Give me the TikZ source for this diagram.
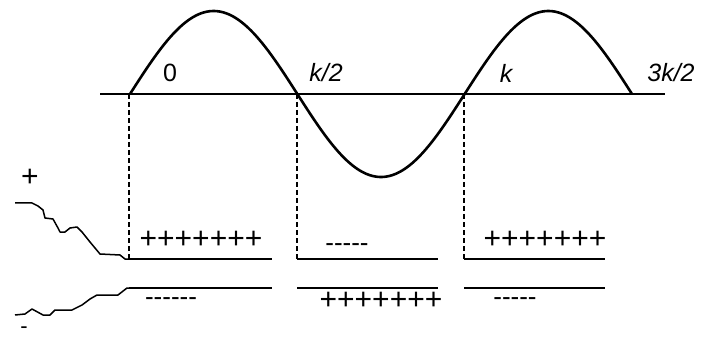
\documentclass[tikz,border=0pt]{standalone}
\usepackage{fontspec}
\setmainfont{Liberation Sans}
\begin{document}
\begin{tikzpicture}[x=1pt,y=-1pt,
  lbl/.style={font=\fontsize{25}{30}\selectfont\itshape, inner sep=0pt},
  lblup/.style={font=\fontsize{25}{30}\selectfont, inner sep=0pt},
  pluses/.style={font=\fontsize{30}{34}\selectfont, inner sep=0pt},
  minuses/.style={font=\fontsize{26}{30}\selectfont, inner sep=0pt},
  plate/.style={line width=1.8pt},
  guide/.style={line width=1.3pt, dash pattern=on 5pt off 3pt},
  wave/.style={line width=2.6pt},
  wire/.style={line width=1.5pt, line join=round}]
\useasboundingbox (0,0) rectangle (701,339);
% axis
\coordinate (axL) at (100,94);
\coordinate (axR) at (665,94);
\draw[line width=1.5pt] (axL) -- (axR);
% sine wave
\draw[wave] plot[domain=130:632, samples=200, smooth] (\x,{94-83*sin((\x-130)/167.33*180)});
% zero crossings
\coordinate (z0) at (129,94);
\coordinate (z1) at (297,94);
\coordinate (z2) at (464,94);
% plates
\coordinate (u1a) at (129,259); \coordinate (u1b) at (272,259);
\coordinate (u2a) at (297,259); \coordinate (u2b) at (438,259);
\coordinate (u3a) at (464,259); \coordinate (u3b) at (605,259);
\coordinate (l1a) at (129,288); \coordinate (l1b) at (272,288);
\coordinate (l2a) at (297,288); \coordinate (l2b) at (438,288);
\coordinate (l3a) at (464,288); \coordinate (l3b) at (605,288);
\draw[plate] (u1a) -- (u1b);
\draw[plate] (u2a) -- (u2b);
\draw[plate] (u3a) -- (u3b);
\draw[plate] (l1a) -- (l1b);
\draw[plate] (l2a) -- (l2b);
\draw[plate] (l3a) -- (l3b);
% guides
\draw[guide] (z0) -- (u1a);
\draw[guide] (z1) -- (u2a);
\draw[guide] (z2) -- (u3a);
% labels
\node[lblup] (n0) at (170,73) {0};
\node[lbl] (n1) at (326,73) {k/2};
\node[lbl] (n2) at (506,73) {k};
\node[lbl] (n3) at (671,73) {3k/2};
% charges
\node[pluses] (p1) at (201,240) {+++++++};
\node[pluses] (p2) at (381,301) {+++++++};
\node[pluses] (p3) at (545,240) {+++++++};
\node[minuses] (m1) at (171,302) {-{}-{}-{}-{}-{}-};
\node[minuses] (m2) at (347,248) {-{}-{}-{}-{}-};
\node[minuses] (m3) at (515,302) {-{}-{}-{}-{}-};
% terminals
\node[font=\fontsize{30}{34}\selectfont, inner sep=0pt] (tp) at (30,178) {+};
\node[font=\fontsize{22}{26}\selectfont, inner sep=0pt, anchor=base] (tm) at (24,333.5) {-};
\coordinate (wu0) at (15,203);
\coordinate (wl0) at (15,315);
\draw[wire] (wu0) -- (32,203) -- (38,206) -- (43,210) -- (45,218) -- (53,219) -- (58,228) -- (60,232) -- (65,232) -- (70,228) -- (77,227) -- (82,232) -- (90,242) -- (100,254) -- (120,255) -- (125,259) -- (u1a);
\draw[wire] (wl0) -- (25,314) -- (32,309) -- (43,315) -- (50,315) -- (55,310) -- (72,310) -- (82,305) -- (90,299) -- (97,295) -- (118,295) -- (127,288) -- (l1a);
\end{tikzpicture}
\end{document}
